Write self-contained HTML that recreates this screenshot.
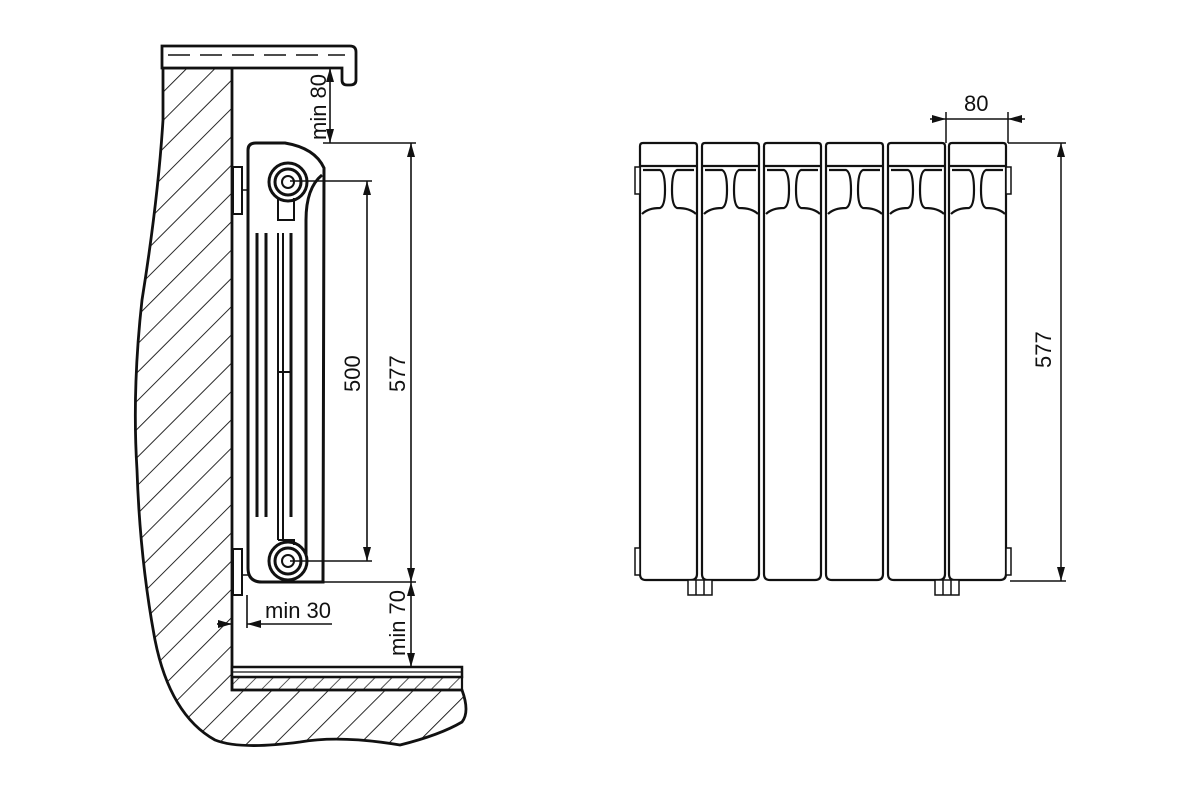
<!DOCTYPE html>
<html><head><meta charset="utf-8"><style>html,body{margin:0;padding:0;background:#fff}svg{display:block}text{font-family:"Liberation Sans",sans-serif;fill:#111}</style></head><body>
<svg width="1200" height="800" viewBox="0 0 1200 800" xmlns="http://www.w3.org/2000/svg">
<defs>
<pattern id="h" width="20" height="20" patternUnits="userSpaceOnUse" patternTransform="rotate(45)">
<line x1="0" y1="0" x2="0" y2="20" stroke="#111" stroke-width="1.8"/></pattern>
<pattern id="h2" width="12" height="12" patternUnits="userSpaceOnUse" patternTransform="rotate(45)">
<line x1="0" y1="0" x2="0" y2="12" stroke="#111" stroke-width="1.4"/></pattern>
<marker id="a" markerWidth="14" markerHeight="8" refX="14" refY="4" orient="auto-start-reverse" markerUnits="userSpaceOnUse"><path d="M0,0 L14,4 L0,8z" fill="#111"/></marker>
<g id="sec" fill="none" stroke="#111" stroke-width="2.2">
<path d="M0,146 Q0,143 3,143 L54,143 Q57,143 57,146 L57,574 Q57,580 51,580 L6,580 Q0,580 0,574 Z"/>
<line x1="0" y1="166" x2="57" y2="166"/>
<path d="M3,170 L20,170 Q25,172 25,190 Q25,206 20,208 Q8,208 2,214"/>
<path d="M54,170 L37,170 Q32,172 32,190 Q32,206 37,208 Q50,208 56,214"/>
</g>
</defs>
<!-- wall -->
<path d="M163,68 L232,68 L232,690 L462,690 Q470,712 462,722 Q440,735 400,745 Q340,735 300,742 Q240,750 215,740 Q170,715 155,640 Q140,560 137,470 Q132,390 142,300 Q158,200 163,120 Z" fill="url(#h)" stroke="#111" stroke-width="2.8"/>
<rect x="232" y="677" width="230" height="13" fill="url(#h2)" stroke="#111" stroke-width="2.2"/>
<rect x="232" y="667" width="230" height="10" fill="#fff" stroke="#111" stroke-width="2.5"/>
<line x1="232" y1="672" x2="462" y2="672" stroke="#111" stroke-width="1.2"/>
<!-- sill -->
<path d="M162,68 L162,46 L350,46 Q356,46 356,52 L356,80 Q356,85 350,85 L347,85 Q342,85 342,80 L342,68 Z" fill="#fff" stroke="#111" stroke-width="2.8"/>
<line x1="168" y1="55" x2="345" y2="55" stroke="#111" stroke-width="1.5" stroke-dasharray="22,10"/>
<!-- radiator side -->
<g fill="none" stroke="#111" stroke-width="3">
<path d="M248,150 Q248,143 256,143 L285,143 Q315,148 324,168 L323,582 L262,582 Q248,582 248,568 Z"/>
<path d="M322,175 Q306,188 306,220 L306,555"/>
<rect x="233" y="167" width="9" height="47" stroke-width="2"/><rect x="233" y="549" width="9" height="46" stroke-width="2"/>
<line x1="242" y1="190" x2="248" y2="190" stroke-width="1.5"/><line x1="242" y1="575" x2="248" y2="575" stroke-width="1.5"/>
<line x1="257" y1="233" x2="257" y2="517"/><line x1="266" y1="233" x2="266" y2="517"/>
<line x1="291" y1="233" x2="291" y2="517"/><line x1="278" y1="233" x2="278" y2="540" stroke-width="2"/>
<line x1="283" y1="233" x2="283" y2="540" stroke-width="2"/>
<path d="M278,198 L278,220 L294,220 L294,198" stroke-width="2"/>
<path d="M278,540 L294,540 L294,545" stroke-width="2"/>
<line x1="278" y1="372" x2="292" y2="372" stroke-width="2"/>
<circle cx="288" cy="182" r="19"/><circle cx="288" cy="182" r="13"/><circle cx="288" cy="182" r="6" stroke-width="2"/>
<circle cx="288" cy="561" r="19"/><circle cx="288" cy="561" r="13"/><circle cx="288" cy="561" r="6" stroke-width="2"/>
</g>
<!-- dims left -->
<g stroke="#111" stroke-width="1.6" fill="none">
<line x1="330" y1="68" x2="330" y2="143" marker-start="url(#a)" marker-end="url(#a)"/>
<line x1="323" y1="143" x2="416" y2="143"/><line x1="323" y1="582" x2="416" y2="582"/>
<line x1="411" y1="143" x2="411" y2="582" marker-start="url(#a)" marker-end="url(#a)"/>
<line x1="411" y1="582" x2="411" y2="667" marker-start="url(#a)" marker-end="url(#a)"/>
<line x1="290" y1="181" x2="372" y2="181"/><line x1="290" y1="561" x2="372" y2="561"/>
<line x1="367" y1="181" x2="367" y2="561" marker-start="url(#a)" marker-end="url(#a)"/>
<line x1="247" y1="595" x2="247" y2="628"/>
<line x1="232" y1="624" x2="217" y2="624" marker-start="url(#a)"/>
<line x1="332" y1="624" x2="247" y2="624" marker-end="url(#a)"/>
</g>
<g font-size="22">
<text transform="translate(326,140) rotate(-90)">min 80</text>
<text transform="translate(360,392) rotate(-90)">500</text>
<text transform="translate(405,392) rotate(-90)">577</text>
<text x="265" y="618">min 30</text>
<text transform="translate(405,656) rotate(-90)">min 70</text>
<text x="964" y="111">80</text>
<text transform="translate(1051,368) rotate(-90)">577</text>
</g>
<!-- right sections -->
<use href="#sec" x="640"/><use href="#sec" x="702"/><use href="#sec" x="764"/><use href="#sec" x="826"/><use href="#sec" x="888"/><use href="#sec" x="949"/>
<g fill="#fff" stroke="#111" stroke-width="1.5">
<rect x="635" y="167" width="5" height="27"/><rect x="1006" y="167" width="5" height="27"/>
<rect x="635" y="548" width="5" height="27"/><rect x="1006" y="548" width="5" height="27"/>
<rect x="688" y="580" width="24" height="15"/><rect x="935" y="580" width="24" height="15"/>
<line x1="696" y1="580" x2="696" y2="595"/><line x1="704" y1="580" x2="704" y2="595"/>
<line x1="943" y1="580" x2="943" y2="595"/><line x1="951" y1="580" x2="951" y2="595"/>
</g>
<g stroke="#111" stroke-width="1.5" fill="none">
<line x1="946" y1="112" x2="946" y2="143"/><line x1="1008" y1="112" x2="1008" y2="143"/>
<line x1="930" y1="119" x2="946" y2="119" marker-end="url(#a)"/>
<line x1="1025" y1="119" x2="1008" y2="119" marker-end="url(#a)"/>
<line x1="946" y1="119" x2="1008" y2="119"/>
<line x1="1008" y1="143" x2="1066" y2="143"/><line x1="1010" y1="581" x2="1066" y2="581"/>
<line x1="1061" y1="143" x2="1061" y2="581" marker-start="url(#a)" marker-end="url(#a)"/>
</g>
</svg>
</body></html>
